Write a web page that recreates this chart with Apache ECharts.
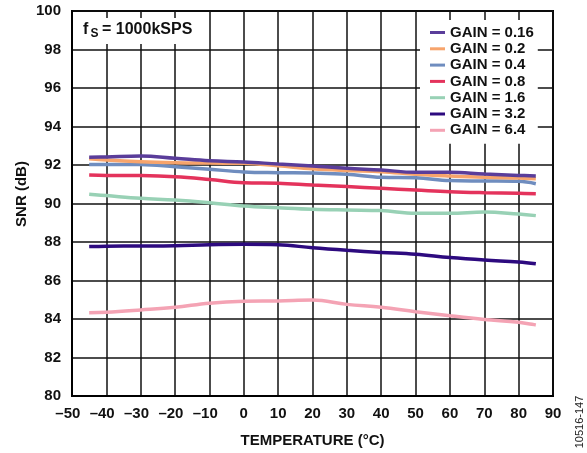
<!DOCTYPE html>
<html>
<head>
<meta charset="utf-8">
<script src="https://cdn.jsdelivr.net/npm/echarts@6/dist/echarts.min.js"></script>
<style>
  html, body { margin: 0; padding: 0; background: #fff; }
  #chart { width: 587px; height: 453px; }
</style>
</head>
<body>
<div id="chart"></div>
<script>
// temperature points (°C)
var temps = [-45, -40, -30, -20, -10, 0, 10, 20, 30, 40, 50, 60, 70, 80, 85]

// SNR (dB) per gain setting
var gain016 = [92.40, 92.42, 92.47, 92.35, 92.22, 92.16, 92.05, 91.95, 91.83, 91.74, 91.62, 91.62, 91.53, 91.46, 91.43]
var gain02  = [92.33, 92.26, 92.17, 92.12, 92.10, 92.09, 91.96, 91.80, 91.71, 91.65, 91.52, 91.43, 91.36, 91.32, 91.29]
var gain04  = [92.03, 92.03, 92.02, 91.91, 91.78, 91.64, 91.60, 91.58, 91.52, 91.36, 91.34, 91.19, 91.17, 91.15, 91.03]
var gain08  = [91.48, 91.46, 91.45, 91.39, 91.25, 91.08, 91.05, 90.96, 90.88, 90.79, 90.70, 90.61, 90.56, 90.53, 90.51]
var gain16  = [90.48, 90.41, 90.27, 90.18, 90.04, 89.87, 89.78, 89.70, 89.66, 89.63, 89.49, 89.49, 89.56, 89.45, 89.37]
var gain32  = [87.76, 87.78, 87.79, 87.81, 87.86, 87.88, 87.86, 87.70, 87.57, 87.46, 87.36, 87.19, 87.06, 86.96, 86.87]
var gain64  = [84.33, 84.35, 84.47, 84.61, 84.82, 84.92, 84.94, 84.99, 84.76, 84.61, 84.38, 84.17, 83.98, 83.83, 83.69]

var seriesNames = ['GAIN = 0.16', 'GAIN = 0.2', 'GAIN = 0.4', 'GAIN = 0.8', 'GAIN = 1.6', 'GAIN = 3.2', 'GAIN = 6.4']
var seriesData = [gain016, gain02, gain04, gain08, gain16, gain32, gain64]
var colors = ['#5a3d9a', '#f7a46c', '#6f8dbf', '#e4335c', '#98d1b5', '#2d0a7f', '#f4a3b4']

var FONT = 'Liberation Sans, Arial, sans-serif'

function pairs (ys) {
  return temps.map(function (t, i) { return [t, ys[i]] })
}

var chart = echarts.init(document.getElementById('chart'), null, { renderer: 'canvas' })

var option = {
  animation: false,
  color: colors,
  grid: { left: 72, right: 34, top: 11, bottom: 57, show: true, borderColor: '#000', borderWidth: 2 },
  xAxis: {
    type: 'value', min: -50, max: 90, interval: 10,
    name: 'TEMPERATURE (°C)', nameLocation: 'middle', nameGap: 37,
    nameTextStyle: { fontFamily: FONT, fontWeight: 'bold', fontSize: 15, color: '#111' },
    axisLine: { onZero: false, lineStyle: { color: '#000', width: 2 } },
    axisTick: { show: false },
    splitLine: { lineStyle: { color: '#111', width: 1.5 } },
    axisLabel: {
      margin: 10, fontFamily: FONT, fontWeight: 'bold', fontSize: 15, color: '#111',
      formatter: function (v) {
        if (v < 0) return '{m|\u2013}{n|' + Math.abs(v) + '}{s|\u2013}'
        return '{n|' + v + '}'
      },
      rich: {
        m: { fontFamily: FONT, fontWeight: 'bold', fontSize: 15, color: '#111' },
        n: { fontFamily: FONT, fontWeight: 'bold', fontSize: 15, color: '#111' },
        s: { fontFamily: FONT, fontWeight: 'bold', fontSize: 15, color: 'rgba(0,0,0,0)' }
      }
    }
  },
  yAxis: {
    type: 'value', min: 80, max: 100, interval: 2,
    axisLine: { onZero: false, lineStyle: { color: '#000', width: 2 } },
    axisTick: { show: false },
    splitLine: { lineStyle: { color: '#111', width: 1.5 } },
    axisLabel: { margin: 11, fontFamily: FONT, fontWeight: 'bold', fontSize: 15, color: '#111' }
  },
  legend: {
    orient: 'vertical', left: 420, top: 20,
    padding: [5, 4, 6, 10],
    backgroundColor: '#fff',
    itemWidth: 15, itemHeight: 3, itemGap: 1.3,
    icon: 'rect',
    data: seriesNames,
    textStyle: { fontFamily: FONT, fontWeight: 'bold', fontSize: 15, lineHeight: 15, color: '#111' }
  },
  graphic: [
    { type: 'rect', z: 5, shape: { x: 73, y: 18, width: 127, height: 26 }, style: { fill: '#fff' } },
    { type: 'text', z: 6, x: 83, y: 30, style: { text: 'f', font: 'bold 16px ' + FONT, fill: '#111', verticalAlign: 'middle' } },
    { type: 'text', z: 6, x: 90.5, y: 33.5, style: { text: 'S', font: 'bold 12px ' + FONT, fill: '#111', verticalAlign: 'middle' } },
    { type: 'text', z: 6, x: 102, y: 30, style: { text: '= 1000kSPS', font: 'bold 16px ' + FONT, fill: '#111', verticalAlign: 'middle' } },
    { type: 'text', z: 6, x: 22, y: 194, rotation: Math.PI / 2, style: { text: 'SNR (dB)', font: 'bold 15px ' + FONT, fill: '#111', align: 'center', verticalAlign: 'middle' } },
    { type: 'text', z: 6, x: 580, y: 422, rotation: Math.PI / 2, style: { text: '10516-147', font: '11px ' + FONT, fill: '#222', align: 'center', verticalAlign: 'middle' } }
  ],
  series: seriesNames.map(function (name, i) {
    return {
      name: name,
      type: 'line',
      smooth: 0.4,
      symbol: 'none',
      lineStyle: { width: 3.5, color: colors[i] },
      data: pairs(seriesData[i]),
      z: 10 - i
    }
  })
}

chart.setOption(option)
</script>
</body>
</html>
